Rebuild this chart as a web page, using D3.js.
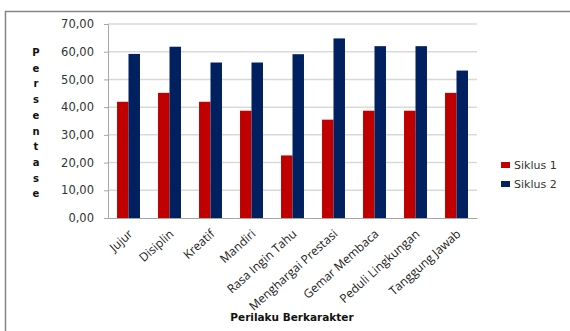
<!DOCTYPE html>
<html>
<head>
<meta charset="utf-8">
<script src="https://cdn.jsdelivr.net/npm/d3@7"></script>
<style>
  body { margin: 0; background: #fff; }
  svg { display: block; }
</style>
</head>
<body>
<div class="visHolder"></div>
<script>
const categories = ["Jujur", "Disiplin", "Kreatif", "Mandiri", "Rasa Ingin Tahu",
    "Menghargai Prestasi", "Gemar Membaca", "Peduli Lingkungan", "Tanggung Jawab"];
const seriesNames = ["Siklus 1", "Siklus 2"];
const siklus1 = [41.94, 45.16, 41.94, 38.71, 22.58, 35.48, 38.71, 38.71, 45.16];
const siklus2 = [59.2, 61.8, 56.1, 56.1, 59.1, 64.8, 62.0, 62.0, 53.2];
const yTicks = [0, 10, 20, 30, 40, 50, 60, 70];
const yTitle = "Persentase";
const xTitle = "Perilaku Berkarakter";

const width = 570;
const height = 331;
const margin = { top: 24, right: 93, bottom: 113, left: 108 };
const colors = ["#c00000", "#002060"];

const svg = d3.select(".visHolder")
    .append("svg")
    .attr("width", width)
    .attr("height", height);

// Outer chart frame
svg.append("rect")
    .attr("x", 5.5)
    .attr("y", 11.5)
    .attr("width", width + 10)
    .attr("height", height + 10)
    .attr("fill", "none")
    .attr("stroke", "#868686")
    .attr("stroke-width", 1.5);

const x0 = d3.scaleBand()
    .domain(categories)
    .range([margin.left, width - margin.right]);

const groupW = x0.bandwidth() * 0.56;
const x1 = d3.scaleBand()
    .domain(seriesNames)
    .range([0, groupW]);

const y = d3.scaleLinear()
    .domain([0, 70])
    .range([height - margin.bottom, margin.top]);

// Gridlines
svg.append("g")
    .selectAll("line")
    .data(yTicks.slice(1))
    .enter()
    .append("line")
    .attr("x1", margin.left)
    .attr("x2", width - margin.right)
    .attr("y1", d => y(d))
    .attr("y2", d => y(d))
    .attr("stroke", "#d9d9d9")
    .attr("stroke-width", 1.5);

// Bars
const rows = categories.map((c, i) => ({ cat: c, vals: [siklus1[i], siklus2[i]] }));
svg.append("g")
    .selectAll("g")
    .data(rows)
    .enter()
    .append("g")
    .attr("transform", d => `translate(${x0(d.cat) + (x0.bandwidth() - groupW) / 2},0)`)
    .selectAll("rect")
    .data(d => d.vals.map((v, j) => ({ key: seriesNames[j], v: v, j: j })))
    .enter()
    .append("rect")
    .attr("x", d => x1(d.key))
    .attr("y", d => y(d.v))
    .attr("width", x1.bandwidth())
    .attr("height", d => y(0) - y(d.v))
    .attr("fill", d => colors[d.j]);

// Y axis
const yAxis = svg.append("g")
    .attr("transform", `translate(${margin.left},0)`)
    .call(d3.axisLeft(y).tickValues(yTicks).tickSize(4).tickPadding(10)
        .tickFormat(d => d3.format(".2f")(d).replace(".", ",")));
yAxis.select(".domain").attr("stroke", "#a6a6a6");
yAxis.selectAll(".tick line").attr("stroke", "#a6a6a6");
yAxis.selectAll("text")
    .attr("fill", "#333")
    .style("font-family", "DejaVu Sans")
    .style("font-size", "11.5px");

// X axis
const xAxis = svg.append("g")
    .attr("transform", `translate(0,${y(0)})`)
    .call(d3.axisBottom(x0).tickSize(0).tickPadding(0));
xAxis.select(".domain").attr("stroke", "#a6a6a6");
xAxis.selectAll("text")
    .attr("fill", "#222")
    .style("font-family", "Open Sans")
    .style("font-size", "12px")
    .attr("text-anchor", "end")
    .attr("dy", 0)
    .attr("y", 0)
    .attr("transform", "translate(5,17) rotate(-42)");

// Vertical stacked letters for the y title
svg.append("g")
    .selectAll("text")
    .data(yTitle.split(""))
    .enter()
    .append("text")
    .attr("x", 36)
    .attr("y", (d, i) => 56 + i * 15.7)
    .attr("text-anchor", "middle")
    .style("font-family", "DejaVu Sans")
    .style("font-weight", "bold")
    .style("font-size", "10px")
    .attr("fill", "#111")
    .text(d => d);

// X title
svg.append("text")
    .attr("x", 292)
    .attr("y", 321)
    .attr("text-anchor", "middle")
    .style("font-family", "DejaVu Sans")
    .style("font-weight", "bold")
    .style("font-size", "10.5px")
    .attr("fill", "#111")
    .text(xTitle);

// Legend
const legend = svg.append("g")
    .selectAll("g")
    .data(seriesNames)
    .enter()
    .append("g")
    .attr("transform", (d, i) => `translate(501,${165 + i * 19})`);
legend.append("rect")
    .attr("y", -3)
    .attr("width", 9)
    .attr("height", 6)
    .attr("fill", (d, i) => colors[i]);
legend.append("text")
    .attr("x", 13)
    .attr("y", 4)
    .style("font-family", "DejaVu Sans")
    .style("font-size", "11px")
    .attr("fill", "#333")
    .text(d => d);
</script>
</body>
</html>
